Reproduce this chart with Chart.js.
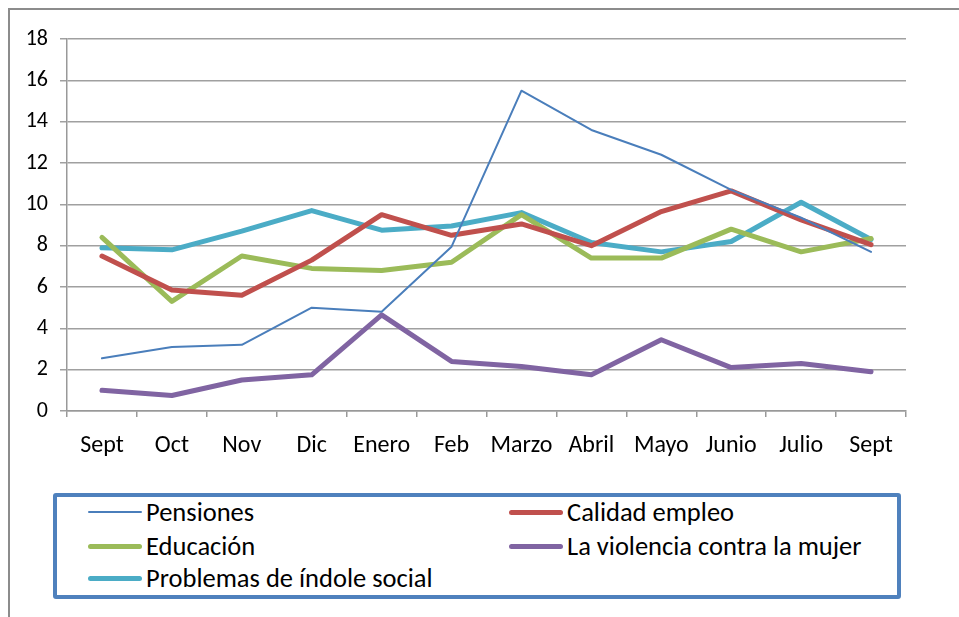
<!DOCTYPE html>
<html>
<head>
<meta charset="utf-8">
<script src="https://cdn.jsdelivr.net/npm/chart.js@4"></script>
<style>
  html, body { margin: 0; padding: 0; background: #fff; }
  body { width: 959px; height: 617px; position: relative; overflow: hidden; font-family: Carlito, "Liberation Sans", sans-serif; }
  #frame { position: absolute; left: 8px; top: 8px; width: 951px; height: 609px; border-top: 2px solid #8c8c8c; border-left: 2px solid #8c8c8c; box-sizing: border-box; }
  #wrap { position: absolute; left: 0; top: 0; width: 959px; height: 480px; }
  #legend { position: absolute; left: 53px; top: 493px; width: 848px; height: 106px; box-sizing: border-box; border: 4px solid #4f81bd; border-radius: 3px; }
  .item { position: absolute; height: 30px; line-height: 30px; font-size: 26.5px; color: #000; white-space: nowrap; }
  .item span.sw { position: absolute; left: 0; top: 50%; width: 54px; border-radius: 3px; }
  .item span.tx { position: absolute; left: 58px; top: 0; }
</style>
</head>
<body>
<div id="frame"></div>
<div id="wrap"><canvas id="chart"></canvas></div>
<div id="legend"></div>
<script>
// datos
const meses = ['Sept', 'Oct', 'Nov', 'Dic', 'Enero', 'Feb', 'Marzo', 'Abril', 'Mayo', 'Junio', 'Julio', 'Sept'];
const pensiones = [2.55, 3.1, 3.2, 5.0, 4.8, 7.95, 15.5, 13.6, 12.4, 10.7, 9.35, 7.7];
const calidadEmpleo = [7.5, 5.85, 5.6, 7.3, 9.5, 8.5, 9.05, 8.0, 9.65, 10.65, 9.25, 8.05];
const educacion = [8.4, 5.3, 7.5, 6.9, 6.8, 7.2, 9.5, 7.4, 7.4, 8.8, 7.7, 8.35];
const violenciaMujer = [1.0, 0.75, 1.5, 1.75, 4.65, 2.4, 2.15, 1.75, 3.45, 2.1, 2.3, 1.9];
const problemasSociales = [7.9, 7.8, 8.7, 9.7, 8.75, 8.95, 9.6, 8.15, 7.7, 8.2, 10.1, 8.3];
const yTicks = [0, 2, 4, 6, 8, 10, 12, 14, 16, 18];

const series = [
    { label: 'Pensiones', data: pensiones, color: '#4a7ebb', width: 2 },
    { label: 'Calidad empleo', data: calidadEmpleo, color: '#c0504d', width: 5 },
    { label: 'Educación', data: educacion, color: '#9bbb59', width: 5 },
    { label: 'La violencia contra la mujer', data: violenciaMujer, color: '#8064a2', width: 5 },
    { label: 'Problemas de índole social', data: problemasSociales, color: '#4bacc6', width: 5 }
];

const fontFamily = 'Carlito, "Liberation Sans", sans-serif';

const chart = new Chart(document.getElementById('chart'), {
    type: 'line',
    data: {
        labels: meses,
        datasets: series.map(s => ({
            label: s.label,
            data: s.data,
            borderColor: s.color,
            backgroundColor: s.color,
            borderWidth: s.width,
            pointRadius: 0,
            tension: 0,
            borderJoinStyle: 'round',
            borderCapStyle: 'round'
        }))
    },
    options: {
        responsive: true,
        maintainAspectRatio: false,
        animation: false,
        layout: { padding: { left: 0, top: 39, right: 53, bottom: 0 } },
        plugins: { legend: { display: false }, tooltip: { enabled: false } },
        scales: {
            x: {
                offset: true,
                grid: { offset: true, drawOnChartArea: false, drawTicks: true, tickLength: 6, color: '#999', lineWidth: 1.5 },
                border: { color: '#999', width: 1.5 },
                ticks: { color: '#000', font: { family: fontFamily, size: 24 }, padding: 15, maxRotation: 0, autoSkip: false },
                afterFit: axis => { axis.height = 69; }
            },
            y: {
                min: 0,
                max: 18,
                afterBuildTicks: axis => { axis.ticks = yTicks.map(v => ({ value: v })); },
                grid: { color: '#a0a0a0', lineWidth: 1.5, tickLength: 7 },
                border: { color: '#999', width: 1.5 },
                ticks: { color: '#000', font: { family: fontFamily, size: 22 }, padding: 12 },
                afterFit: axis => { axis.width = 67; }
            }
        }
    }
});

// leyenda en dos columnas
const legend = document.getElementById('legend');
const pos = [[31, 0], [452, 0], [31, 34], [452, 34], [31, 66]];
series.forEach((s, i) => {
    const d = document.createElement('div');
    d.className = 'item';
    d.style.left = pos[i][0] + 'px';
    d.style.top = pos[i][1] + 'px';
    const sw = document.createElement('span');
    sw.className = 'sw';
    sw.style.borderTop = s.width + 'px solid ' + s.color;
    sw.style.marginTop = (-s.width / 2) + 'px';
    const tx = document.createElement('span');
    tx.className = 'tx';
    tx.textContent = s.label;
    d.appendChild(sw);
    d.appendChild(tx);
    legend.appendChild(d);
});
</script>
</body>
</html>
